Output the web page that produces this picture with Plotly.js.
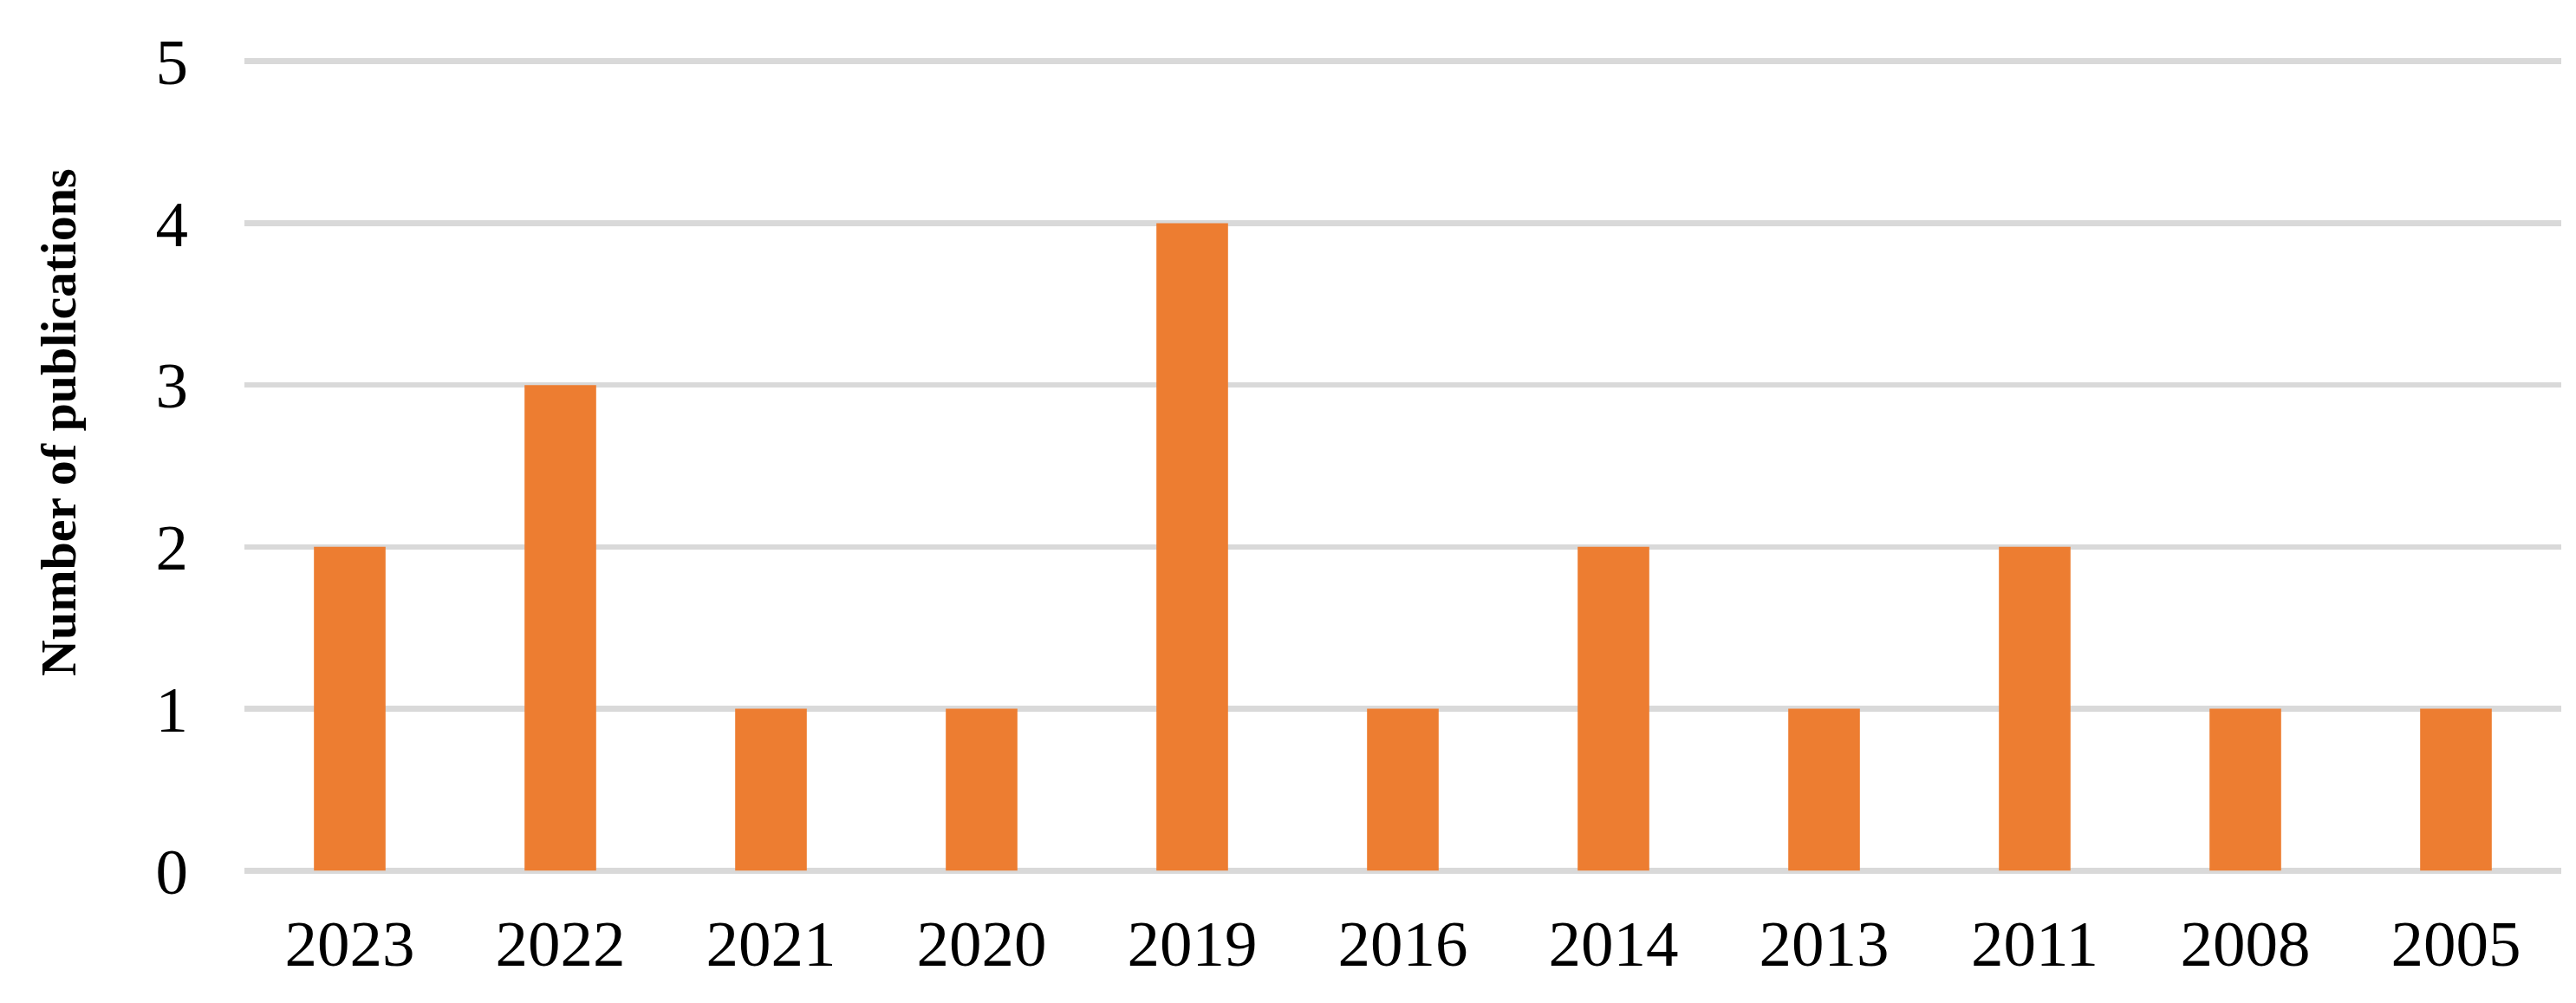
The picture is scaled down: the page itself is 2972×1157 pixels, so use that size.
<!DOCTYPE html>
<html>
<head>
<meta charset="utf-8">
<script src="https://cdn.plot.ly/plotly-3.0.1.min.js"></script>
<style>html,body{margin:0;padding:0;background:#fff;}#chart{width:2972px;height:1157px;}</style>
</head>
<body>
<div id="chart"></div>
<script>
const years = ["2023","2022","2021","2020","2019","2016","2014","2013","2011","2008","2005"];
const publications = [2,3,1,1,4,1,2,1,2,1,1];
const yTicks = [0,1,2,3,4,5];
const yTitle = "Number of publications";

const trace = {
  type: "bar",
  x: years,
  y: publications,
  marker: {color: "#ED7D31", line: {width: 0}},
  hoverinfo: "x+y"
};

const layout = {
  width: 2972,
  height: 1157,
  margin: {l: 281.5, r: 17, t: 66.8, b: 148.8, pad: 0},
  paper_bgcolor: "#ffffff",
  plot_bgcolor: "#ffffff",
  bargap: 0.66,
  showlegend: false,
  font: {family: "Liberation Serif, Times New Roman, serif", color: "#000000", size: 75},
  xaxis: {
    type: "category",
    tickvals: years,
    showgrid: false,
    zeroline: false,
    showline: false,
    ticks: "",
    ticklabelstandoff: 30,
    tickfont: {family: "Liberation Serif, Times New Roman, serif", size: 75, color: "#000000"}
  },
  yaxis: {
    range: [-0.02, 5.02],
    tickvals: yTicks,
    showgrid: true,
    gridcolor: "#d9d9d9",
    gridwidth: 6.5,
    zeroline: false,
    showline: false,
    ticks: "",
    ticklabelstandoff: 64,
    tickfont: {family: "Liberation Serif, Times New Roman, serif", size: 75, color: "#000000"}
  },
  annotations: [{
    text: "<b>" + yTitle + "</b>",
    xref: "paper", yref: "paper",
    x: -0.0803, y: 0.553,
    xanchor: "center", yanchor: "middle",
    textangle: -90,
    showarrow: false,
    font: {family: "Liberation Serif, Times New Roman, serif", size: 58, color: "#000000"}
  }]
};

Plotly.newPlot("chart", [trace], layout, {displayModeBar: false, staticPlot: true});
</script>
</body>
</html>
